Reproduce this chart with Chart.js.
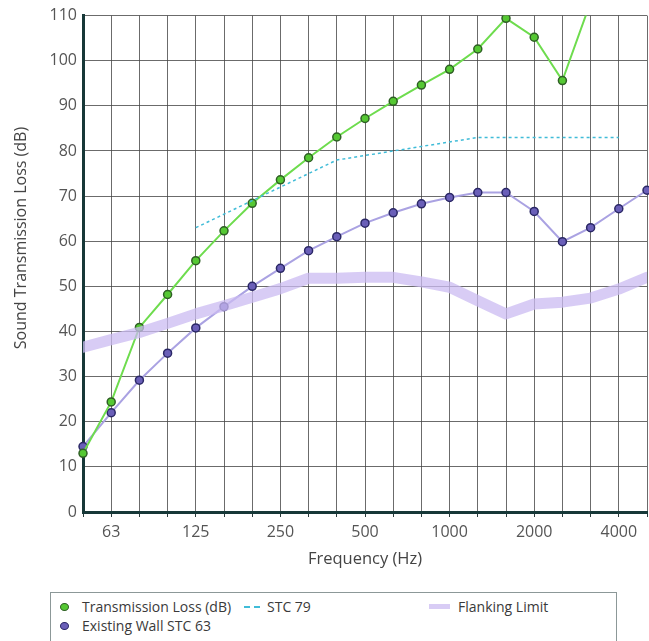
<!DOCTYPE html>
<html>
<head>
<meta charset="utf-8">
<script src="https://cdn.jsdelivr.net/npm/chart.js@4.4.1/dist/chart.umd.min.js"></script>
<style>
  html, body { margin: 0; padding: 0; background: #fff; }
  body { width: 649px; height: 641px; position: relative; overflow: hidden; font-family: "Open Sans", sans-serif; }
  #chart { position: absolute; left: 0; top: 0; }
  #ytitle { position: absolute; left: 20px; top: 238px; width: 260px; margin-left: -130px; text-align: center;
    font-size: 16px; line-height: 20px; margin-top: -10px; color: #444; transform: rotate(-90deg); white-space: nowrap; }
  #legend { position: absolute; left: 50px; top: 592px; width: 567px; height: 54px; border: 1px solid #8c9898; box-sizing: border-box; font-size: 14px; color: #3a3a3a; }
  .txt { position: absolute; line-height: 18px; height: 18px; white-space: nowrap; }
  .dot { position: absolute; width: 7px; height: 6px; border-radius: 50%; border: 1.5px solid; }
  .dash { position: absolute; width: 16px; height: 0; border-top: 2px dashed #40bcd8; }
  .bar { position: absolute; width: 21px; height: 5px; background: #d8ccf5; }
</style>
</head>
<body>
<canvas id="chart" width="649" height="580"></canvas>
<div id="ytitle"></div>
<div id="legend"></div>
<script>
// 1/3-oktavband (Hz)
const freqLabels = ["50", "63", "80", "100", "125", "160", "200", "250", "315", "400", "500",
  "630", "800", "1000", "1250", "1600", "2000", "2500", "3150", "4000", "5000"];
// bara dessa band får en etikett på x-axeln
const tickLabels = ["63", "125", "250", "500", "1000", "2000", "4000"];

const transmissionLoss = [13, 24.4, 40.9, 48.2, 55.7, 62.3, 68.4, 73.6, 78.5, 83.1, 87.2,
  91, 94.6, 98.1, 102.6, 109.4, 105.2, 95.6, 113, null, null];
const existingWall = [14.5, 22, 29.2, 35.2, 40.8, 45.5, 50, 54, 57.9, 61, 64,
  66.3, 68.3, 69.7, 70.8, 70.8, 66.6, 59.9, 63, 67.2, 71.3];
const stc79 = [null, null, null, null, 63, 66, 69, 72, 75, 78, 79,
  80, 81, 82, 83, 83, 83, 83, 83, 83, null];
const flankingLimit = [36.5, 38.2, 39.8, 41.8, 43.9, 45.7, 47.6, 49.5, 51.8, 51.8, 52,
  52, 51, 49.8, 46.8, 43.9, 46.1, 46.5, 47.4, 49.4, 52];

const seriesNames = ["Transmission Loss (dB)", "Existing Wall STC 63", "STC 79", "Flanking Limit"];
const axisTitles = { x: "Frequency (Hz)", y: "Sound Transmission Loss (dB)" };

const FONT = "'Open Sans', sans-serif";

/**
 * Bygger legenden i rutan under diagrammet.
 */
function renderLegend() {
  const legend = document.querySelector("#legend");
  legend.innerHTML =
    '<span class="dot" style="left:9px;top:10px;background:#55c833;border-color:#2f5f25"></span>' +
    '<span class="txt" style="left:31px;top:5px">' + seriesNames[0] + '</span>' +
    '<span class="dash" style="left:193px;top:13px"></span>' +
    '<span class="txt" style="left:216px;top:5px">' + seriesNames[2] + '</span>' +
    '<span class="bar" style="left:378px;top:11px"></span>' +
    '<span class="txt" style="left:407px;top:5px">' + seriesNames[3] + '</span>' +
    '<span class="dot" style="left:9px;top:29px;background:#6a5fb8;border-color:#2b2866"></span>' +
    '<span class="txt" style="left:31px;top:24px">' + seriesNames[1] + '</span>';
  document.querySelector("#ytitle").textContent = axisTitles.y;
}

function renderChart(canvas) {
  return new Chart(canvas, {
    type: "line",
    data: {
      labels: freqLabels,
      datasets: [
        {
          label: seriesNames[3], data: flankingLimit, order: 0,
          borderColor: "rgba(203,187,242,0.75)", borderWidth: 11, pointRadius: 0,
          clip: 0, borderCapStyle: "round", borderJoinStyle: "round"
        },
        {
          label: seriesNames[2], data: stc79, order: 1,
          borderColor: "#40bcd8", borderWidth: 1.5, borderDash: [3, 3], pointRadius: 0
        },
        {
          label: seriesNames[0], data: transmissionLoss, order: 2,
          borderColor: "#6edc4e", borderWidth: 2, pointRadius: 4, pointBorderWidth: 1.5,
          pointBackgroundColor: "#55c833", pointBorderColor: "#2f5f25",
          clip: { left: 5, top: 0, right: 5, bottom: 5 }
        },
        {
          label: seriesNames[1], data: existingWall, order: 3,
          borderColor: "#aaa2e2", borderWidth: 2, pointRadius: 4, pointBorderWidth: 1.5,
          pointBackgroundColor: "#6a5fb8", pointBorderColor: "#2b2866"
        }
      ]
    },
    options: {
      responsive: false,
      animation: false,
      layout: { autoPadding: false, padding: { top: 14, right: 2, left: 0, bottom: 0 } },
      plugins: { legend: { display: false }, tooltip: { enabled: false } },
      scales: {
        x: {
          offset: false,
          afterFit: (s) => { s.height = 68; s.paddingLeft = 0; s.paddingRight = 0; },
          grid: { color: "rgba(70,70,70,0.8)", lineWidth: 1, tickLength: 5, tickColor: "#2a3a3a" },
          border: { color: "#173838", width: 3 },
          ticks: {
            autoSkip: false, maxRotation: 0, padding: 6, color: "#555",
            font: { family: FONT, size: 16 },
            callback: function (value) {
              const label = this.getLabelForValue(value);
              return tickLabels.includes(label) ? label : "";
            }
          },
          title: {
            display: true, text: axisTitles.x, color: "#444",
            font: { family: FONT, size: 16.5 }, padding: { top: 0, bottom: 11 }
          }
        },
        y: {
          min: 0, max: 110,
          afterFit: (s) => { s.width = 83; },
          grid: { color: "rgba(70,70,70,0.8)", lineWidth: 1, drawTicks: false },
          border: { color: "#173838", width: 3 },
          ticks: { stepSize: 10, padding: 6, color: "#555", font: { family: FONT, size: 16 } }
        }
      }
    }
  });
}

renderChart(document.querySelector("#chart"));
renderLegend();
</script>
</body>
</html>
